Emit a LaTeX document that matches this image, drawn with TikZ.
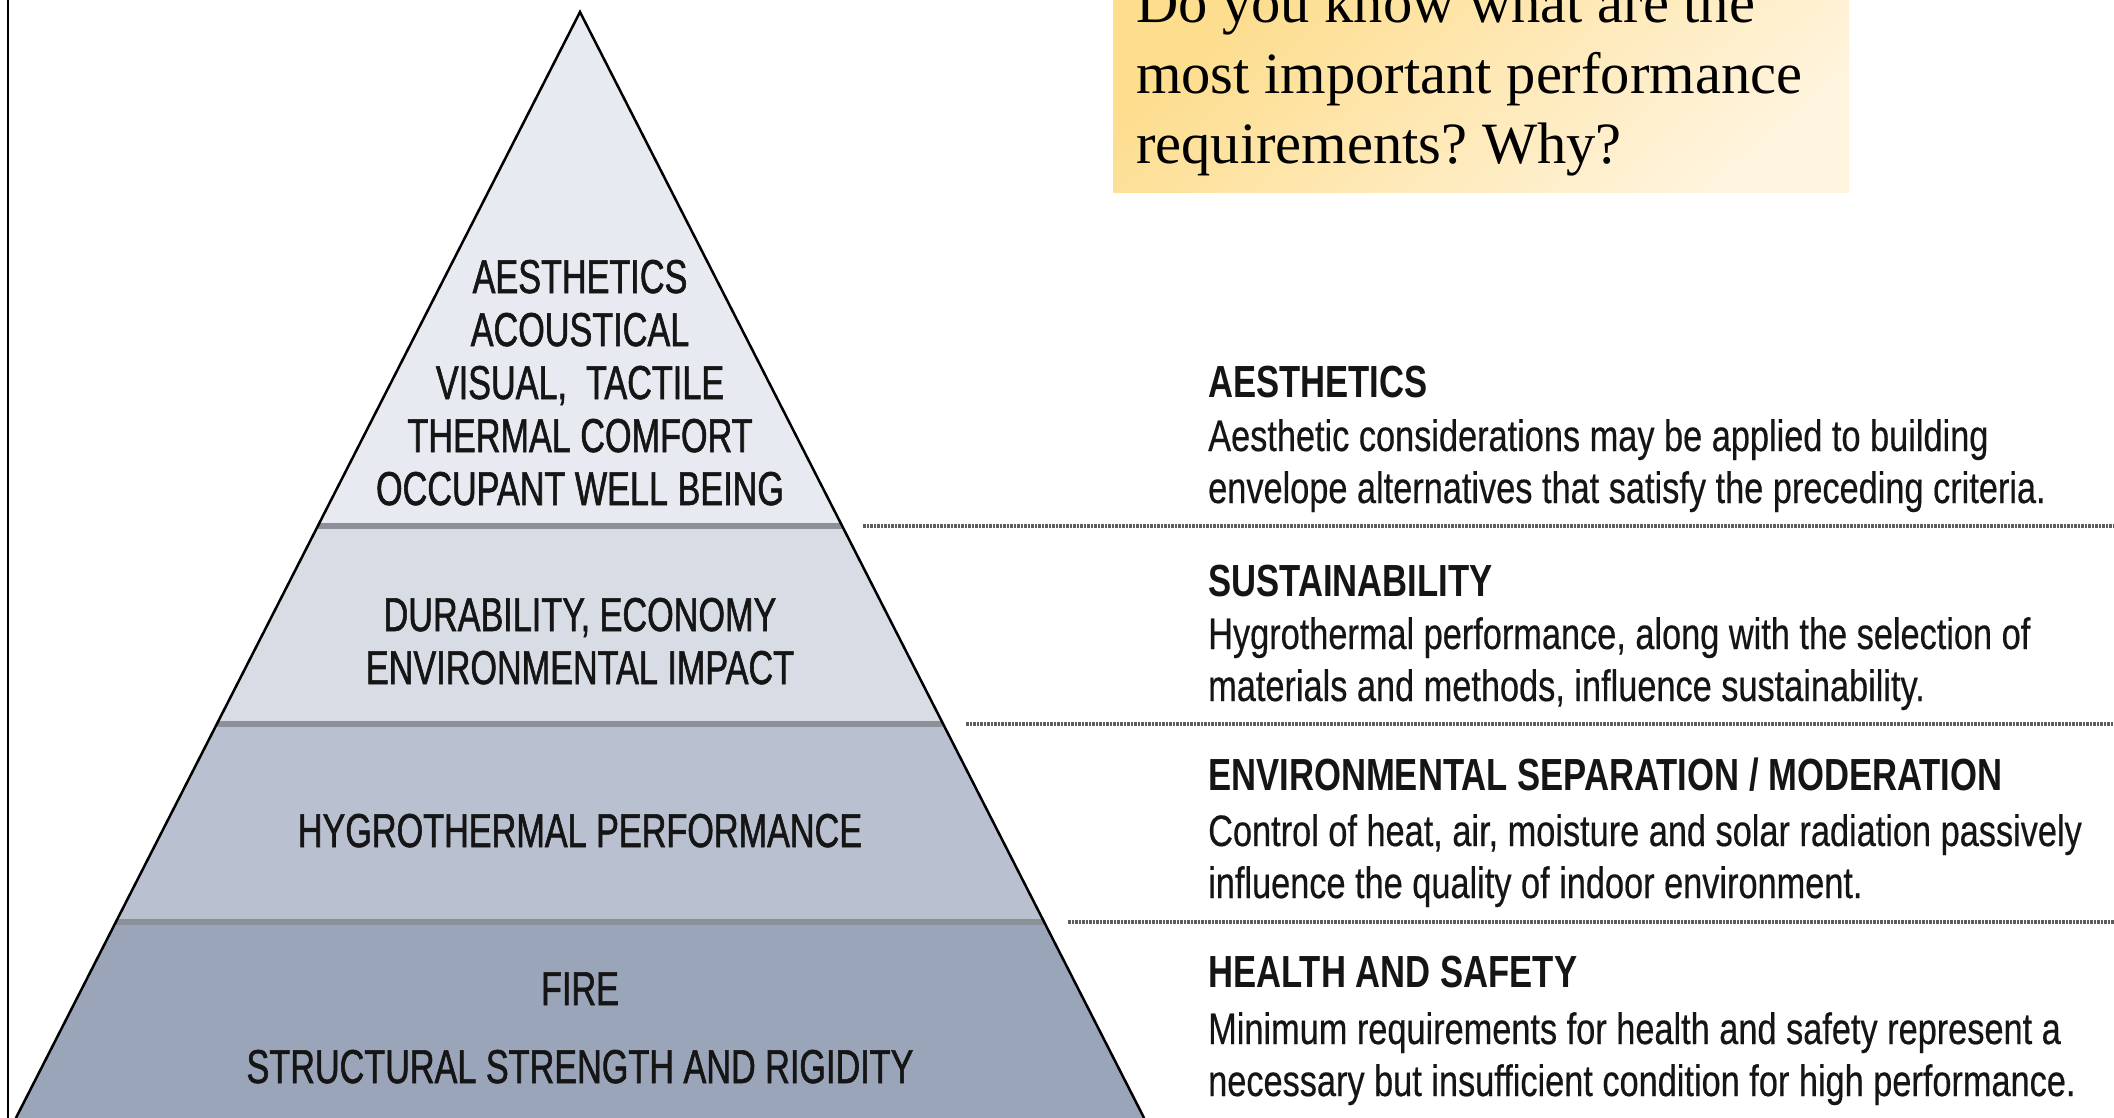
\documentclass[tikz,border=0pt]{standalone}
\usepackage{fontspec}
\setmainfont{Liberation Serif}
\frenchspacing
\newfontfamily\pyrfont{Liberation Sans}[FakeStretch=0.72,FakeBold=1.2]
\newfontfamily\headfont{Liberation Sans}[FakeStretch=0.77]
\newfontfamily\bodyfont{Liberation Sans}[FakeStretch=0.78,FakeBold=0.4]
\definecolor{layerA}{HTML}{E7EAF0}
\definecolor{layerB}{HTML}{D8DCE5}
\definecolor{layerC}{HTML}{B9C0CF}
\definecolor{layerD}{HTML}{9BA5B9}
\definecolor{sepgray}{HTML}{8C9199}
\definecolor{dashgray}{HTML}{5E5E5E}
\definecolor{boxA}{HTML}{FDDD8E}
\definecolor{boxB}{HTML}{FFF4DE}
\definecolor{inkdark}{HTML}{151515}
\tikzset{
  pyrtext/.style={anchor=base, align=center, inner sep=0pt, text=inkdark,
    font=\pyrfont\fontsize{47.5}{53}\selectfont},
  headtext/.style={anchor=base west, inner sep=0pt, text=inkdark,
    font=\headfont\bfseries\fontsize{45}{54}\selectfont},
  bodytext/.style={anchor=base west, align=left, inner sep=0pt, text=inkdark,
    font=\bodyfont\fontsize{44}{52}\selectfont},
  qtext/.style={anchor=base west, align=left, inner sep=0pt, text=black,
    font=\fontsize{58.5}{70.5}\selectfont},
  sepline/.style={draw=sepgray, line width=5.5pt},
  dashline/.style={draw=dashgray, line width=3.5pt, dash pattern=on 2.5pt off 1pt},
  outline/.style={draw=black, line width=2.5pt, line join=miter}
}
\begin{document}
\begin{tikzpicture}[x=1pt, y=-1pt]
\useasboundingbox (0,0) rectangle (2114,1118);
\fill[white] (0,0) rectangle (2114,1118);
% left frame line
\draw[line width=2pt] (8,0) -- (8,1118);
% question box
\shade[top color=boxA, bottom color=boxB, shading angle=40] (1113,-2) rectangle (1849,193);
\node[qtext] (question) at (1136,164) {Do you know what are the\\most important performance\\requirements? Why?};
% pyramid layers
\coordinate (apex) at (580,12);
\coordinate (aL) at (317.9,526); \coordinate (aR) at (842.1,526);
\coordinate (bL) at (216.9,724); \coordinate (bR) at (943.1,724);
\coordinate (cL) at (115.9,922); \coordinate (cR) at (1044.1,922);
\coordinate (dL) at (15.9,1118); \coordinate (dR) at (1144.1,1118);
\fill[layerA] (apex) -- (aR) -- (aL) -- cycle;
\fill[layerB] (aL) -- (aR) -- (bR) -- (bL) -- cycle;
\fill[layerC] (bL) -- (bR) -- (cR) -- (cL) -- cycle;
\fill[layerD] (cL) -- (cR) -- (dR) -- (dL) -- cycle;
\draw[sepline] (aL) -- (aR);
\draw[sepline] (bL) -- (bR);
\draw[sepline] (cL) -- (cR);
\draw[outline] (dL) -- (apex) -- (dR);
% dashed separators on the right
\draw[dashline] (863,526) -- (2114,526);
\draw[dashline] (966,724) -- (2114,724);
\draw[dashline] (1068,922) -- (2114,922);
% pyramid texts (base = last line)
\node[pyrtext] (top) at (580,505) {AESTHETICS\\ACOUSTICAL\\VISUAL,\ \ TACTILE\\THERMAL COMFORT\\OCCUPANT WELL BEING};
\node[pyrtext] (second) at (580,684) {DURABILITY, ECONOMY\\ENVIRONMENTAL IMPACT};
\node[pyrtext] (third) at (580,847) {HYGROTHERMAL PERFORMANCE};
\node[pyrtext] (fourth) at (580,1083) {FIRE\\[25pt]STRUCTURAL STRENGTH AND RIGIDITY};
% right descriptions
\node[headtext] (h1) at (1208,397) {AESTHETICS};
\node[bodytext] (b1) at (1208,503) {Aesthetic considerations may be applied to building\\envelope alternatives that satisfy the preceding criteria.};
\node[headtext] (h2) at (1208,596) {SUSTAINABILITY};
\node[bodytext] (b2) at (1208,701) {Hygrothermal performance, along with the selection of\\materials and methods, influence sustainability.};
\node[headtext] (h3) at (1208,790) {ENVIRONMENTAL SEPARATION / MODERATION};
\node[bodytext] (b3) at (1208,898) {Control of heat, air, moisture and solar radiation passively\\influence the quality of indoor environment.};
\node[headtext] (h4) at (1208,987) {HEALTH AND SAFETY};
\node[bodytext] (b4) at (1208,1096) {Minimum requirements for health and safety represent a\\necessary but insufficient condition for high performance.};
\end{tikzpicture}
\end{document}
